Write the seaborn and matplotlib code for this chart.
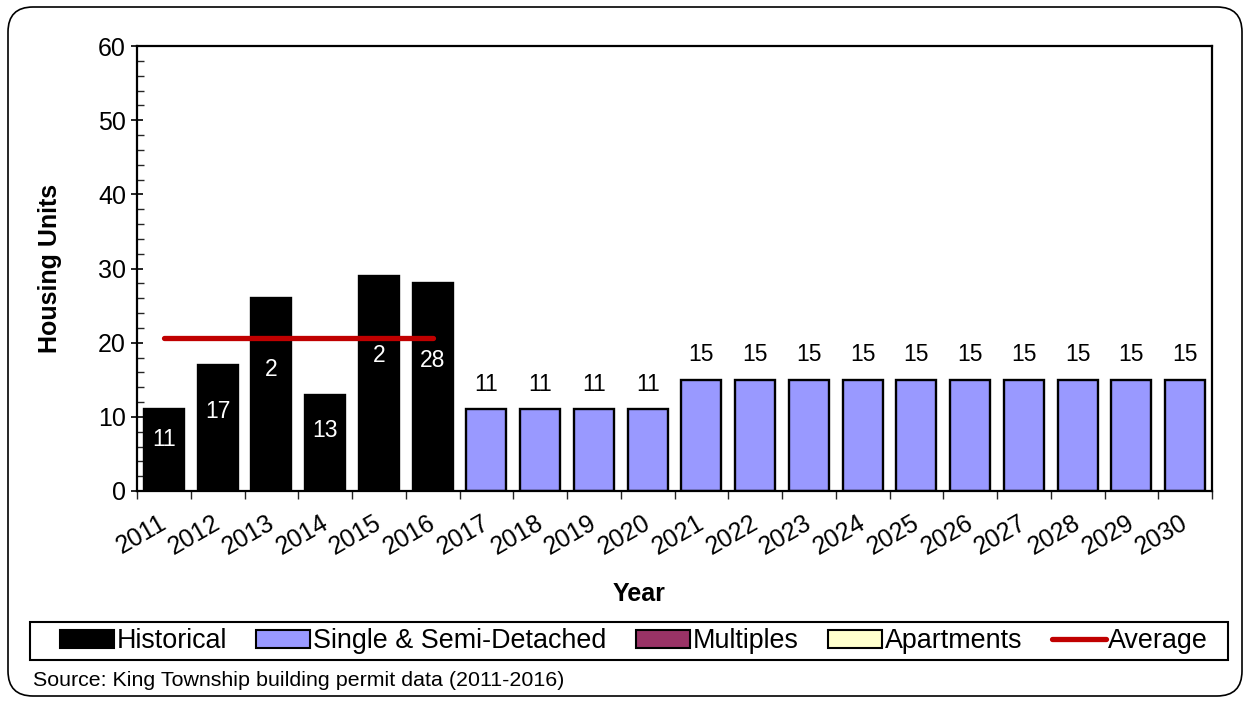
import matplotlib
matplotlib.use("Agg")
import matplotlib.pyplot as plt
import seaborn as sns
import pandas as pd
import numpy as np
from matplotlib.patches import Patch, FancyBboxPatch, Rectangle
from matplotlib.lines import Line2D
from matplotlib.transforms import ScaledTranslation

years = [str(y) for y in range(2011, 2031)]
historical = [11, 17, 26, 13, 29, 28]
projected = [11, 11, 11, 11, 15, 15, 15, 15, 15, 15, 15, 15, 15, 15]
hist_labels = ["11", "17", "2", "13", "2", "28"]
proj_labels = [str(v) for v in projected]
series_names = ["Historical", "Single & Semi-Detached", "Multiples", "Apartments", "Average"]
average = sum(historical) / len(historical)

sns.set_theme(style="white")
plt.rcParams['font.family'] = ['Liberation Sans', 'DejaVu Sans']

df = pd.DataFrame({
    "Year": years,
    "Units": historical + projected,
    "Type": ["Historical"] * len(historical) + ["Single & Semi-Detached"] * len(projected),
})

colors = {"Historical": "#000000", "Single & Semi-Detached": "#9999FF",
          "Multiples": "#993366", "Apartments": "#FFFFCC"}
avg_color = "#C00000"

fig = plt.figure(figsize=(12.5, 7.04), dpi=100)
ax = fig.add_axes([137/1250, 1-491/704, (1212-137)/1250, (491-46)/704])

sns.barplot(data=df, x="Year", y="Units", hue="Type", dodge=False,
            palette=colors, saturation=1, width=0.74, edgecolor="black", linewidth=1.7,
            ax=ax, legend=False, order=years)

# average line over historical period
ax.plot([0, len(historical) - 1], [average, average], color=avg_color, lw=3.8,
        solid_capstyle="round", zorder=5)

# labels
for i, (v, lab) in enumerate(zip(historical, hist_labels)):
    ax.text(i, v * 0.63, lab, color="white", ha="center", va="center", fontsize=16.5, zorder=6)
for j, (v, lab) in enumerate(zip(projected, proj_labels)):
    i = j + len(historical)
    ax.annotate(lab, (i, v), xytext=(0, 10), textcoords="offset points",
                ha="center", va="bottom", fontsize=16.5, color="black")

ax.set_xlim(-0.5, len(years) - 0.5)
ax.set_ylim(0, 60)
ax.set_yticks(np.arange(0, 61, 10))
ax.set_yticks(np.arange(0, 61, 2), minor=True)
ax.tick_params(axis="y", which="major", direction="inout", length=8, width=1.2,
               labelsize=18, left=True, pad=4, colors="black")
ax.tick_params(axis="y", which="minor", direction="in", length=5, width=1.0, left=True)

ax.set_xticks(range(len(years)))
ax.set_xticklabels(years, rotation=30, ha="right", rotation_mode="anchor")
ax.set_xticks(np.arange(-0.5, len(years), 1), minor=True)
ax.tick_params(axis="x", which="major", length=0, labelsize=18, pad=14)
ax.tick_params(axis="x", which="minor", direction="out", length=6, width=1.0, bottom=True)
shift = ScaledTranslation(-5/100, 0, fig.dpi_scale_trans)
for t in ax.get_xticklabels():
    t.set_color("black")
    t.set_transform(t.get_transform() + shift)

for s in ax.spines.values():
    s.set_visible(True)
    s.set_color("black")
    s.set_linewidth(1.6)

ax.set_xlabel("Year", fontsize=18, fontweight="bold", color="black")
ax.set_ylabel("Housing Units", fontsize=18, fontweight="bold", color="black")
ax.xaxis.set_label_coords((639-137)/1075, (491-594)/445)
ax.xaxis.label.set_va("center")
ax.yaxis.set_label_coords((50-137)/1075, 0.5)
ax.yaxis.label.set_va("center")
ax.grid(False)

handles = [
    Patch(facecolor=colors["Historical"], edgecolor="black", lw=1.5),
    Patch(facecolor=colors["Single & Semi-Detached"], edgecolor="black", lw=1.5),
    Patch(facecolor=colors["Multiples"], edgecolor="black", lw=1.5),
    Patch(facecolor=colors["Apartments"], edgecolor="black", lw=1.5),
    Line2D([0], [0], color=avg_color, lw=3.8),
]
leg = fig.legend(handles, series_names, loc="center", ncol=5,
                 bbox_to_anchor=(634/1250, 1-641/704), fontsize=19.4,
                 frameon=False,
                 handlelength=2.0, handleheight=0.65, handletextpad=0.1,
                 columnspacing=1.1, borderpad=0.2, borderaxespad=0)
for t in leg.get_texts():
    t.set_color("black")
fig.patches.append(Rectangle((30/1250, 1-660/704), (1228-30)/1250, (660-622)/704,
                             transform=fig.transFigure, fill=False,
                             edgecolor="black", lw=1.5))

fig.text(33/1250, 1-680/704, "Source: King Township building permit data (2011-2016)",
         fontsize=15.4, va="center", ha="left", color="black")

border = FancyBboxPatch((8/1250, 8/704), (1242-8)/1250, (697-8)/704,
                        boxstyle="round,pad=0,rounding_size=0.02",
                        transform=fig.transFigure, fill=False, edgecolor="black",
                        lw=1.2, mutation_aspect=1250/704)
fig.patches.append(border)

fig.savefig("out.png", dpi=100, facecolor="white")
